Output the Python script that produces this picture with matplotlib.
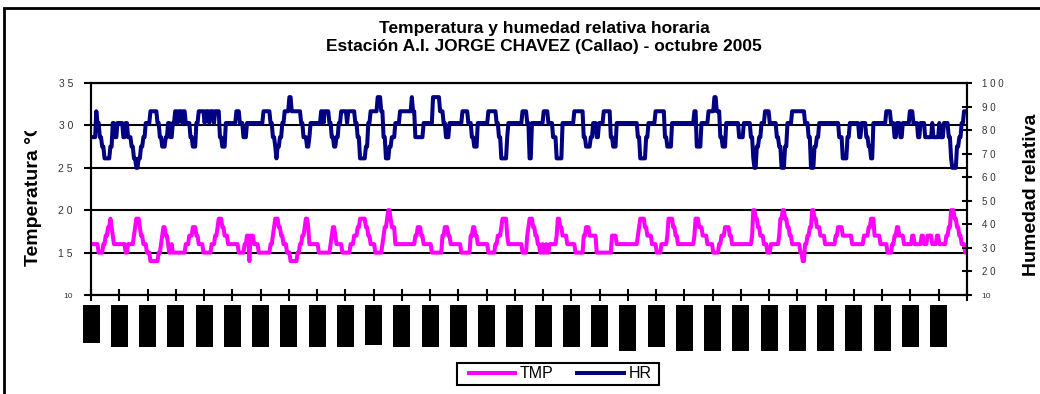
import numpy as np
import matplotlib
matplotlib.use("Agg")
import matplotlib.pyplot as plt
import matplotlib.transforms as mtransforms
from matplotlib.patches import Rectangle

plt.rcParams["font.family"] = ["Liberation Sans", "DejaVu Sans"]

# Hourly series for October 2005, stored as steps: value held until hour "until"
tmp_vals = [16, 15, 16, 17, 18, 19, 18, 17, 16, 15,
            16, 17, 18, 19, 18, 17, 16, 15, 14, 15,
            16, 17, 18, 17, 16, 15, 16, 15, 16, 17,
            18, 17, 16, 15, 16, 17, 18, 19, 18, 17,
            16, 15, 16, 17, 14, 17, 16, 15, 16, 17,
            18, 19, 18, 17, 16, 15, 14, 15, 16, 17,
            18, 19, 18, 16, 15, 16, 17, 18, 17, 16,
            15, 16, 17, 18, 19, 18, 17, 16, 15, 16,
            17, 18, 19, 20, 19, 18, 16, 17, 18, 17,
            16, 15, 17, 18, 17, 16, 15, 17, 18, 17,
            16, 15, 16, 17, 18, 19, 17, 16, 15, 17,
            18, 19, 18, 17, 16, 15, 16, 15, 16, 15,
            16, 17, 19, 18, 17, 16, 15, 17, 18, 17,
            15, 17, 16, 17, 18, 19, 18, 17, 16, 15,
            16, 17, 19, 18, 17, 16, 17, 19, 18, 17,
            16, 15, 16, 17, 18, 17, 16, 17, 20, 19,
            18, 17, 16, 15, 16, 17, 19, 20, 19, 18,
            17, 16, 15, 14, 16, 17, 18, 20, 19, 18,
            17, 16, 17, 18, 17, 16, 17, 18, 19, 17,
            16, 15, 16, 17, 18, 17, 16, 17, 16, 17,
            16, 17, 16, 17, 16, 17, 18, 20, 19, 18,
            17, 16, 15]
tmp_until = [6, 10, 12, 14, 16, 17, 18, 19, 29, 31,
             36, 37, 38, 41, 42, 44, 47, 50, 57, 59,
             60, 61, 63, 65, 66, 68, 69, 80, 83, 86,
             89, 91, 95, 102, 105, 107, 108, 111, 113, 116,
             125, 130, 132, 134, 135, 138, 142, 152, 154, 155,
             156, 159, 161, 163, 166, 169, 175, 177, 179, 181,
             182, 184, 185, 193, 203, 204, 205, 207, 208, 213,
             220, 223, 226, 228, 233, 235, 237, 241, 247, 248,
             249, 251, 252, 254, 255, 258, 275, 277, 280, 282,
             289, 298, 300, 303, 305, 314, 322, 324, 326, 328,
             337, 343, 345, 348, 349, 353, 354, 366, 370, 371,
             372, 375, 377, 379, 381, 383, 384, 386, 387, 389,
             395, 396, 398, 400, 404, 411, 418, 420, 423, 429,
             442, 446, 464, 465, 466, 470, 472, 476, 480, 484,
             489, 490, 494, 496, 498, 512, 513, 516, 519, 523,
             528, 533, 535, 538, 542, 544, 561, 562, 564, 566,
             568, 571, 574, 577, 584, 585, 587, 589, 591, 593,
             595, 602, 604, 606, 608, 610, 612, 614, 616, 619,
             623, 632, 634, 638, 646, 656, 660, 662, 665, 670,
             676, 680, 682, 684, 686, 690, 697, 699, 705, 707,
             710, 714, 718, 720, 726, 728, 730, 733, 735, 737,
             739, 742, 744]

hr_vals = [77, 88, 83, 77, 73, 68, 73, 83, 77, 83,
           77, 83, 77, 73, 68, 64, 68, 73, 77, 83,
           88, 83, 77, 73, 77, 83, 77, 83, 88, 83,
           88, 83, 88, 83, 77, 73, 83, 88, 83, 88,
           83, 88, 83, 88, 77, 73, 83, 88, 83, 77,
           83, 88, 83, 77, 73, 68, 73, 77, 83, 88,
           94, 88, 83, 77, 73, 77, 83, 88, 83, 88,
           83, 77, 73, 77, 83, 88, 83, 88, 83, 77,
           68, 73, 83, 88, 94, 88, 77, 68, 73, 77,
           83, 88, 94, 88, 77, 83, 94, 88, 83, 77,
           83, 88, 83, 77, 73, 83, 88, 83, 77, 68,
           77, 83, 88, 83, 68, 83, 88, 83, 77, 68,
           83, 88, 77, 73, 77, 83, 77, 83, 88, 77,
           73, 83, 77, 68, 77, 83, 88, 77, 73, 83,
           88, 73, 83, 88, 94, 88, 77, 73, 83, 77,
           83, 77, 68, 64, 73, 77, 83, 88, 83, 77,
           73, 64, 73, 83, 88, 83, 77, 64, 73, 77,
           83, 77, 68, 77, 83, 77, 83, 77, 73, 68,
           83, 88, 83, 77, 83, 77, 83, 88, 83, 77,
           83, 77, 83, 77, 83, 77, 83, 77, 68, 64,
           73, 77, 83, 88]
hr_until = [4, 5, 7, 9, 11, 16, 18, 20, 22, 27,
            29, 31, 34, 36, 38, 40, 42, 44, 46, 50,
            56, 58, 60, 63, 65, 67, 69, 71, 73, 74,
            77, 78, 80, 84, 86, 89, 91, 96, 97, 100,
            101, 104, 105, 109, 111, 114, 123, 126, 129, 132,
            146, 152, 154, 156, 157, 158, 160, 162, 164, 168,
            170, 178, 180, 183, 185, 186, 195, 197, 198, 202,
            204, 206, 208, 210, 212, 217, 218, 224, 226, 228,
            233, 235, 237, 243, 246, 248, 250, 253, 255, 258,
            262, 272, 273, 275, 282, 290, 296, 299, 301, 304,
            315, 320, 323, 325, 328, 337, 344, 346, 348, 353,
            354, 366, 370, 372, 374, 384, 388, 392, 395, 400,
            410, 418, 420, 424, 426, 429, 431, 435, 441, 443,
            446, 464, 466, 471, 473, 479, 487, 489, 493, 512,
            514, 518, 524, 529, 531, 534, 536, 539, 550, 554,
            560, 562, 563, 565, 567, 569, 572, 576, 582, 584,
            586, 589, 591, 595, 606, 609, 611, 614, 616, 618,
            635, 638, 642, 644, 652, 654, 658, 660, 662, 664,
            675, 679, 682, 684, 687, 689, 695, 698, 702, 704,
            708, 714, 715, 720, 721, 724, 728, 730, 731, 735,
            737, 739, 741, 744]

n_days = 31
left_ticks = [10, 15, 20, 25, 30, 35]
left_labels = ["10", "1 5", "2 0", "2 5", "3 0", "3 5"]
right_ticks = [10, 20, 30, 40, 50, 60, 70, 80, 90, 100]
right_labels = ["10", "2 0", "3 0", "4 0", "5 0", "6 0", "7 0", "8 0", "9 0", "1 0 0"]
# date labels came out as solid blocks; their lengths in pixels
label_box_px = [38, 42, 42, 42, 42, 42, 42, 42, 42, 42,
                40, 42, 42, 42, 42, 42, 42, 42, 42, 46,
                42, 46, 46, 46, 46, 46, 46, 46, 46, 42, 42]

tmp = np.repeat(tmp_vals, np.diff([0] + tmp_until))
hr = np.repeat(hr_vals, np.diff([0] + hr_until))
hours_t = np.arange(len(tmp)) + 0.5
hours_h = np.arange(len(hr)) + 0.5
n_hours = n_days * 24

W, H = 1040, 394
fig = plt.figure(figsize=(W / 100, H / 100), dpi=100)
ax = fig.add_axes([91 / W, 1 - 295 / H, 876 / W, 212 / H])
ax2 = ax.twinx()

l1, = ax.plot(hours_t, tmp, color="#FF00FF", lw=2.9, solid_joinstyle="round")
l2, = ax2.plot(hours_h, hr, color="#000080", lw=2.9, solid_joinstyle="round")

ax.set_xlim(0, n_hours)
ax.set_ylim(10, 35)
ax2.set_ylim(10, 100)
ax.set_xticks(np.arange(0, n_hours + 1, 24))
ax.set_xticklabels([])
ax.set_yticks(left_ticks, left_labels)
ax2.set_yticks(right_ticks, right_labels)
ax.yaxis.grid(True, color="black", lw=1.5)
ax.set_axisbelow(True)

for a in (ax, ax2):
    for s in a.spines.values():
        s.set_color("black")
        s.set_linewidth(1.5)
ax.tick_params(axis="x", direction="inout", length=8, width=1.5)
ax.tick_params(axis="y", direction="out", length=5, width=1.5, pad=8,
               labelsize=7.5, labelcolor="#333333")
ax2.tick_params(axis="y", direction="inout", length=7, width=1.5, pad=7,
                labelsize=7, labelcolor="#333333")
for lbl in ax.get_yticklabels() + ax2.get_yticklabels():
    if lbl.get_text() == "10":
        lbl.set_fontsize(6)

# black blocks under each day tick
trans = mtransforms.blended_transform_factory(ax.transData, ax.transAxes)
box_w = 17 / 876 * n_hours
top = -10 / 212
for i, h in enumerate(label_box_px):
    ax.add_patch(Rectangle((24 * i - box_w / 2, top - h / 212), box_w, h / 212,
                           transform=trans, clip_on=False, color="black", lw=0))

# chart area border
fig.patches.append(Rectangle((4 / W, -0.1), 1.2, 1 - 8 / H + 0.1, transform=fig.transFigure,
                             fill=False, ec="black", lw=2))

fig.text(544 / W, 1 - 28 / H, "Temperatura y humedad relativa horaria",
         ha="center", va="center", fontsize=12.5, fontweight="bold")
fig.text(544 / W, 1 - 47 / H, "Estación A.I. JORGE CHAVEZ (Callao) - octubre 2005",
         ha="center", va="center", fontsize=12.5, fontweight="bold")

t = fig.text(33.5 / W, 1 - 266 / H, "Temperatura °C", rotation=90,
             ha="center", va="bottom", fontsize=14, fontweight="bold")
t.set_clip_box(mtransforms.TransformedBbox(
    mtransforms.Bbox([[0, 0], [0.2, 1 - 131 / H]]), fig.transFigure))
t.set_clip_on(True)
fig.text(1031 / W, 1 - 195 / H, "Humedad relativa", rotation=90,
         ha="center", va="center", fontsize=14, fontweight="bold")

# legend with a hand-placed square box
leg = fig.legend(handles=[l1, l2], labels=["TMP", "HR"], loc="center",
                 bbox_to_anchor=(560 / W, 1 - 374 / H), ncol=2, frameon=False,
                 fontsize=11.5, handlelength=2.9, handletextpad=0.3,
                 columnspacing=1.5)
fig.patches.append(Rectangle((457 / W, 1 - 385 / H), 202 / W, 22 / H,
                             transform=fig.transFigure, fill=False, ec="black", lw=1.5))

fig.savefig("out.png", dpi=100)
